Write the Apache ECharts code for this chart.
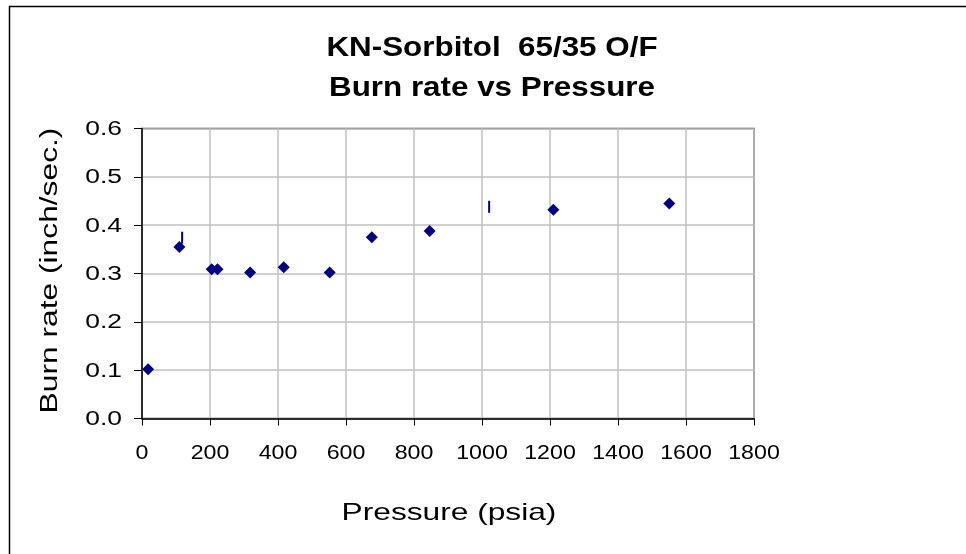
<!DOCTYPE html>
<html>
<head>
<meta charset="utf-8">
<script src="https://cdn.jsdelivr.net/npm/echarts@6/dist/echarts.min.js"></script>
<style>html,body{margin:0;padding:0;background:#fff;}#c{width:966px;height:554px;}</style>
</head>
<body>
<div id="c"></div>
<script>
// Measured burn rate points (diamonds)
var pressure = [18, 110, 205, 222, 318, 417, 552, 676, 846, 1210, 1551];
var burnRate = [0.102, 0.355, 0.309, 0.309, 0.302, 0.313, 0.302, 0.375, 0.388, 0.432, 0.445];
// Secondary marks (vertical dash markers)
var dashPressure = [118, 1021];
var dashRate = [0.374, 0.438];
// Tick labels
var xTicks = [0, 200, 400, 600, 800, 1000, 1200, 1400, 1600, 1800];
var yTicks = [0.0, 0.1, 0.2, 0.3, 0.4, 0.5, 0.6];
var titleLines = ['KN-Sorbitol  65/35 O/F', 'Burn rate vs Pressure'];
var xName = 'Pressure (psia)';
var yName = 'Burn rate (inch/sec.)';

var FONT = '"Liberation Sans", Arial, sans-serif';
var STRETCH = 1.32;
var chart = echarts.init(document.getElementById('c'));

var borderRect = {
  type: 'rect', left: 7, top: 4, z: 100, silent: true,
  shape: { x: 0, y: 0, width: 1000, height: 700 },
  style: { fill: 'none', stroke: '#000', lineWidth: 1.5 }
};

chart.setOption({
  animation: false,
  backgroundColor: '#fff',
  graphic: [borderRect],
  grid: {
    left: 142, top: 128.5, width: 612, height: 290,
    show: true, borderColor: '#404040', borderWidth: 1.5, backgroundColor: '#fff'
  },
  xAxis: {
    type: 'value', min: xTicks[0], max: xTicks[xTicks.length - 1], interval: 200,
    axisLine: { show: true, lineStyle: { color: '#000', width: 1.5 } },
    axisTick: { show: true, inside: false, length: 7, lineStyle: { color: '#000' } },
    axisLabel: { show: false },
    splitLine: { show: true, lineStyle: { color: '#c0c0c0', width: 1.5 } }
  },
  yAxis: {
    type: 'value', min: yTicks[0], max: yTicks[yTicks.length - 1], interval: 0.1,
    axisLine: { show: true, lineStyle: { color: '#000', width: 1.5 } },
    axisTick: { show: true, inside: false, length: 8, lineStyle: { color: '#000' } },
    axisLabel: { show: false },
    splitLine: { show: true, lineStyle: { color: '#c0c0c0', width: 1.5 } }
  },
  series: [{
    type: 'scatter', symbol: 'diamond', symbolSize: 12,
    itemStyle: { color: '#000080', opacity: 1 },
    data: pressure.map(function (p, i) { return [p, burnRate[i]]; })
  }, {
    type: 'scatter', symbol: 'rect', symbolSize: [2, 12],
    itemStyle: { color: '#000080', opacity: 1 },
    data: dashPressure.map(function (p, i) { return [p, dashRate[i]]; })
  }]
});

function txt(text, x, y, opts) {
  return {
    type: 'text', x: x, y: y, z: 50, silent: true,
    scaleX: opts.scaleX || STRETCH,
    rotation: opts.rotation || 0,
    style: {
      text: text, fill: '#000',
      fontFamily: FONT, fontSize: opts.size, fontWeight: opts.bold ? 'bold' : 'normal',
      align: opts.align || 'center', verticalAlign: 'middle',
      textAlign: opts.align || 'center', textVerticalAlign: 'middle'
    }
  };
}

var g = [borderRect];
// title
g.push(txt(titleLines[0], 492, 48, { size: 28, bold: true, scaleX: 1.12 }));
g.push(txt(titleLines[1], 492, 88, { size: 28, bold: true, scaleX: 1.12 }));
// x tick labels
xTicks.forEach(function (v) {
  var p = chart.convertToPixel({ gridIndex: 0 }, [v, yTicks[0]]);
  g.push(txt(String(v), p[0], p[1] + 35, { size: 20, scaleX: 1.16 }));
});
// y tick labels
yTicks.forEach(function (v) {
  var p = chart.convertToPixel({ gridIndex: 0 }, [xTicks[0], v]);
  g.push(txt(v.toFixed(1), p[0] - 20, p[1] + 1, { size: 20, align: 'right' }));
});
// axis names
var c0 = chart.convertToPixel({ gridIndex: 0 }, [(xTicks[0] + xTicks[xTicks.length - 1]) / 2, (yTicks[0] + yTicks[yTicks.length - 1]) / 2]);
g.push(txt(xName, c0[0] + 1, 513, { size: 24 }));
g.push(txt(yName, 51, c0[1] - 3, { size: 23, rotation: Math.PI / 2, scaleX: 1.38 }));

chart.setOption({ graphic: g }, { replaceMerge: ['graphic'] });
</script>
</body>
</html>
